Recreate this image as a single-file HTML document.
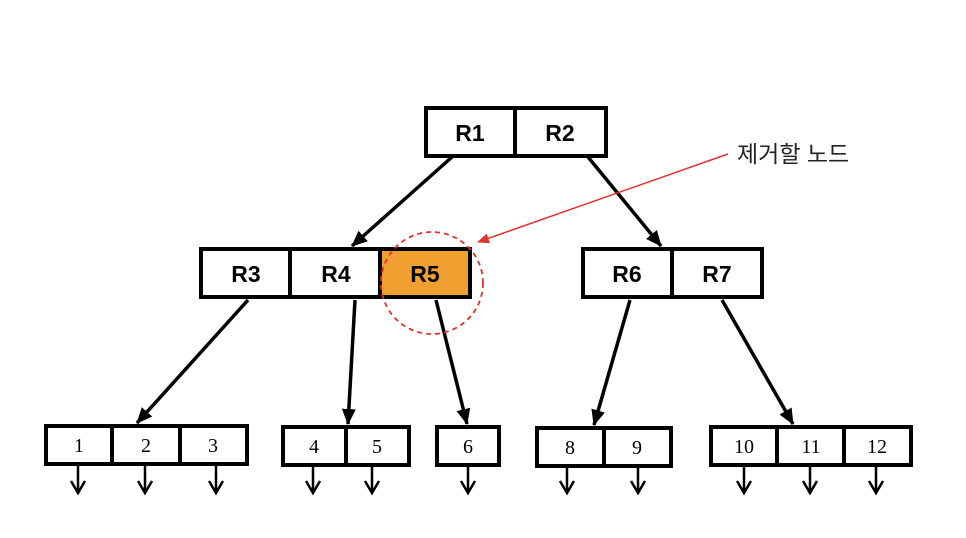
<!DOCTYPE html>
<html><head><meta charset="utf-8"><style>
html,body{margin:0;padding:0;background:#fff;width:966px;height:538px;overflow:hidden}
svg text{font-family:"Liberation Sans","Noto Sans CJK KR",sans-serif}
.b{font-weight:bold;font-size:23px}
.n{font-family:"Liberation Serif",serif!important;font-size:20px}
</style></head><body>
<svg width="966" height="538" viewBox="0 0 966 538" xmlns="http://www.w3.org/2000/svg">
<defs>
<marker id="ab" markerWidth="16" markerHeight="16" refX="15" refY="8" orient="auto" markerUnits="userSpaceOnUse" viewBox="0 0 16 16"><path d="M0,1 L16,8 L0,15 z" fill="#000"/></marker>
<marker id="ar" markerWidth="12" markerHeight="12" refX="11" refY="6" orient="auto" markerUnits="userSpaceOnUse" viewBox="0 0 12 12"><path d="M0,1 L12,6 L0,11 z" fill="#e03030"/></marker>
</defs>
<g fill="none" stroke="#000" stroke-width="4">
<rect x="426" y="108" width="180" height="48" fill="#fff"/><line x1="515" y1="108" x2="515" y2="156"/>
<rect x="381" y="249" width="89" height="48" fill="#f0a030" stroke="none"/>
<rect x="201" y="249" width="269" height="48"/><line x1="290" y1="249" x2="290" y2="297"/><line x1="380" y1="249" x2="380" y2="297"/>
<rect x="583" y="249" width="179" height="48"/><line x1="672" y1="249" x2="672" y2="297"/>
<rect x="46" y="426" width="201" height="38"/><line x1="112" y1="426" x2="112" y2="464"/><line x1="180" y1="426" x2="180" y2="464"/>
<rect x="283" y="427" width="126" height="38"/><line x1="346" y1="427" x2="346" y2="465"/>
<rect x="437" y="427" width="62" height="38"/>
<rect x="537" y="428" width="134" height="38"/><line x1="604" y1="428" x2="604" y2="466"/>
<rect x="711" y="427" width="200" height="38"/><line x1="777" y1="427" x2="777" y2="465"/><line x1="844" y1="427" x2="844" y2="465"/>
</g>
<g stroke="#000" stroke-width="3.5">
<line x1="452" y1="157" x2="352" y2="246" marker-end="url(#ab)"/>
<line x1="588" y1="157" x2="661" y2="246" marker-end="url(#ab)"/>
<line x1="248" y1="300" x2="137" y2="423" marker-end="url(#ab)"/>
<line x1="355" y1="300" x2="348" y2="424" marker-end="url(#ab)"/>
<line x1="436" y1="300" x2="467" y2="424" marker-end="url(#ab)"/>
<line x1="630" y1="300" x2="594" y2="425" marker-end="url(#ab)"/>
<line x1="722" y1="300" x2="793" y2="424" marker-end="url(#ab)"/>
</g>
<g stroke="#000" stroke-width="2.5" fill="none">
<path d="M78,466V493M71,481L78,493L85,481"/>
<path d="M145,466V493M138,481L145,493L152,481"/>
<path d="M216,466V493M209,481L216,493L223,481"/>
<path d="M313,466V493M306,481L313,493L320,481"/>
<path d="M372,466V493M365,481L372,493L379,481"/>
<path d="M468,466V493M461,481L468,493L475,481"/>
<path d="M567,467V493M560,481L567,493L574,481"/>
<path d="M638,467V493M631,481L638,493L645,481"/>
<path d="M744,466V493M737,481L744,493L751,481"/>
<path d="M810,466V493M803,481L810,493L817,481"/>
<path d="M876,466V493M869,481L876,493L883,481"/>
</g>
<circle cx="432" cy="283" r="51" fill="none" stroke="#e03030" stroke-width="1.8" stroke-dasharray="5,4"/>
<line x1="728" y1="154" x2="478" y2="242" stroke="#e03030" stroke-width="1.5" marker-end="url(#ar)"/>
<text x="737" y="162" font-size="23" fill="#222">제거할 노드</text>
<g text-anchor="middle" fill="#000">
<text x="470" y="141" class="b">R1</text><text x="560" y="141" class="b">R2</text>
<text x="246" y="282" class="b">R3</text><text x="336" y="282" class="b">R4</text><text x="425" y="282" class="b">R5</text>
<text x="627" y="282" class="b">R6</text><text x="717" y="282" class="b">R7</text>
</g>
<g text-anchor="middle" fill="#000">
<text x="79" y="452" class="n">1</text><text x="146" y="452" class="n">2</text><text x="213" y="452" class="n">3</text>
<text x="314" y="453" class="n">4</text><text x="377" y="453" class="n">5</text><text x="468" y="453" class="n">6</text>
<text x="570" y="454" class="n">8</text><text x="637" y="454" class="n">9</text>
<text x="744" y="453" class="n">10</text><text x="811" y="453" class="n">11</text><text x="877" y="453" class="n">12</text>
</g>
</svg>
</body></html>
